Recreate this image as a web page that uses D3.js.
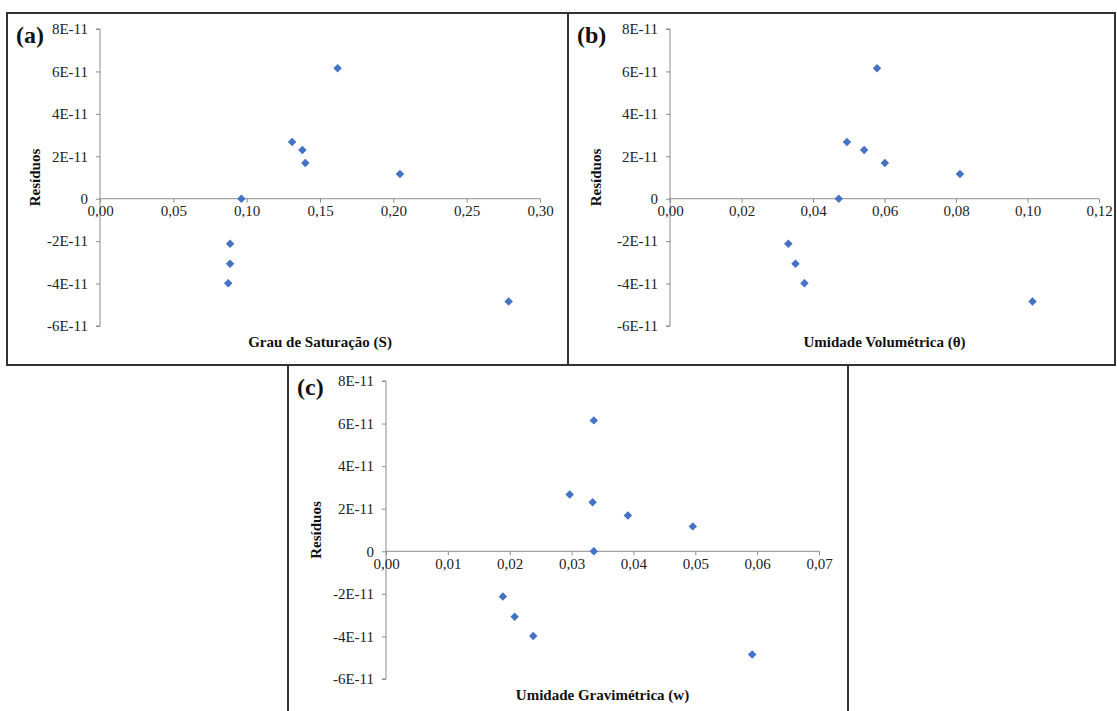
<!DOCTYPE html>
<html>
<head>
<meta charset="utf-8">
<script src="https://cdn.jsdelivr.net/npm/d3@7"></script>
<style>
  body { margin: 0; background: #fff; }
  svg { display: block; font-family: "Liberation Serif", "Times New Roman", serif; }
</style>
</head>
<body>
<div id="chart"></div>
<script>
// residuals, same samples in all three panels (units of 1E-11)
var residuos = [6.15, 2.67, 2.3, 1.68, 1.17, 0, -2.12, -3.07, -3.98, -4.85];

// x values per panel, same sample order as residuos
var grauSaturacao   = [0.162, 0.131, 0.138, 0.140, 0.2045, 0.0964, 0.0887, 0.0887, 0.0874, 0.2786];
var umidadeVolum    = [0.0579, 0.0495, 0.0543, 0.0601, 0.0811, 0.0472, 0.0331, 0.0351, 0.0376, 0.1014];
var umidadeGravim   = [0.0336, 0.0297, 0.0334, 0.0391, 0.0496, 0.0336, 0.0189, 0.0208, 0.0238, 0.0592];

var yTicks = [-6, -4, -2, 0, 2, 4, 6, 8];
var xTicksA = [0, 0.05, 0.10, 0.15, 0.20, 0.25, 0.30];
var xTicksB = [0, 0.02, 0.04, 0.06, 0.08, 0.10, 0.12];
var xTicksC = [0, 0.01, 0.02, 0.03, 0.04, 0.05, 0.06, 0.07];

var width = 1117, height = 711;
var serif = "'Liberation Serif', 'Times New Roman', serif";

var svg = d3.select("#chart").append("svg")
  .attr("width", width)
  .attr("height", height);

var panels = [
  { tag: "(a)", xs: grauSaturacao, ticks: xTicksA, title: "Grau de Saturação (S)",
    box: [7, 13, 561, 352], plot: { x0: 100, x1: 540, y0: 29, y1: 326 } },
  { tag: "(b)", xs: umidadeVolum, ticks: xTicksB, title: "Umidade Volumétrica (θ)",
    box: [568, 13, 547, 352], plot: { x0: 670, x1: 1099, y0: 29, y1: 326 } },
  { tag: "(c)", xs: umidadeGravim, ticks: xTicksC, title: "Umidade Gravimétrica (w)",
    box: [288, 365, 560, 360], plot: { x0: 386, x1: 819, y0: 381, y1: 679 } }
];

var fmtX = function(d) { return d3.format(".2f")(d).replace(".", ","); };
var fmtY = function(d) { return d === 0 ? "0" : d + "E-11"; };

var diamond = d3.symbol().type(d3.symbolSquare).size(36);

// excel-ish axis look
var styleAxis = function(a) {
  a.attr("font-family", serif).attr("font-size", 15);
  a.selectAll("line").attr("stroke", "#8c8c8c");
  a.select(".domain").attr("stroke", "#8c8c8c");
  a.selectAll("text").attr("fill", "#222");
};

panels.forEach(function(p) {
  var g = svg.append("g");

  // panel frame
  g.append("rect")
    .attr("x", p.box[0]).attr("y", p.box[1])
    .attr("width", p.box[2]).attr("height", p.box[3])
    .attr("fill", "none")
    .attr("stroke", "#333")
    .attr("stroke-width", 2);

  var x = d3.scaleLinear()
    .domain([p.ticks[0], p.ticks[p.ticks.length - 1]])
    .range([p.plot.x0, p.plot.x1]);
  var y = d3.scaleLinear()
    .domain([-6, 8])
    .range([p.plot.y1, p.plot.y0]);

  // y axis at x = 0
  g.append("g")
    .attr("transform", "translate(" + x(0) + ",0)")
    .call(d3.axisLeft(y).tickValues(yTicks).tickFormat(fmtY).tickSize(4).tickPadding(8))
    .call(function(a) { a.select(".domain").attr("d", "M-4," + y(8) + "H0V" + y(-6) + "H-4"); })
    .call(styleAxis);

  // x axis crossing at y = 0
  g.append("g")
    .attr("transform", "translate(0," + y(0) + ")")
    .call(d3.axisBottom(x).tickValues(p.ticks).tickFormat(fmtX).tickSize(4).tickPadding(3))
    .call(function(a) { a.select(".domain").attr("d", "M" + x.range()[0] + ",0H" + x.range()[1]); })
    .call(styleAxis);

  // points
  g.selectAll(".pt")
    .data(p.xs.map(function(v, i) { return { x: v, r: residuos[i] }; }))
    .enter().append("path")
    .attr("class", "pt")
    .attr("d", diamond)
    .attr("fill", "#4472c4")
    .attr("transform", function(d) {
      return "translate(" + x(d.x) + "," + y(d.r) + ") rotate(45)";
    });

  // panel tag
  g.append("text")
    .attr("x", p.box[0] + 9)
    .attr("y", p.plot.y0 + 14)
    .attr("font-size", 24)
    .attr("font-weight", "bold")
    .attr("fill", "#111")
    .text(p.tag);

  // y title
  var ymid = (p.plot.y0 + p.plot.y1) / 2;
  g.append("text")
    .attr("transform", "translate(" + (p.box[0] + 33) + "," + ymid + ") rotate(-90)")
    .attr("text-anchor", "middle")
    .attr("font-size", 15)
    .attr("font-weight", "bold")
    .attr("fill", "#111")
    .text("Resíduos");

  // x title
  g.append("text")
    .attr("x", (p.plot.x0 + p.plot.x1) / 2)
    .attr("y", p.plot.y1 + 21)
    .attr("text-anchor", "middle")
    .attr("font-size", 15)
    .attr("font-weight", "bold")
    .attr("fill", "#111")
    .text(p.title);
});
</script>
</body>
</html>
